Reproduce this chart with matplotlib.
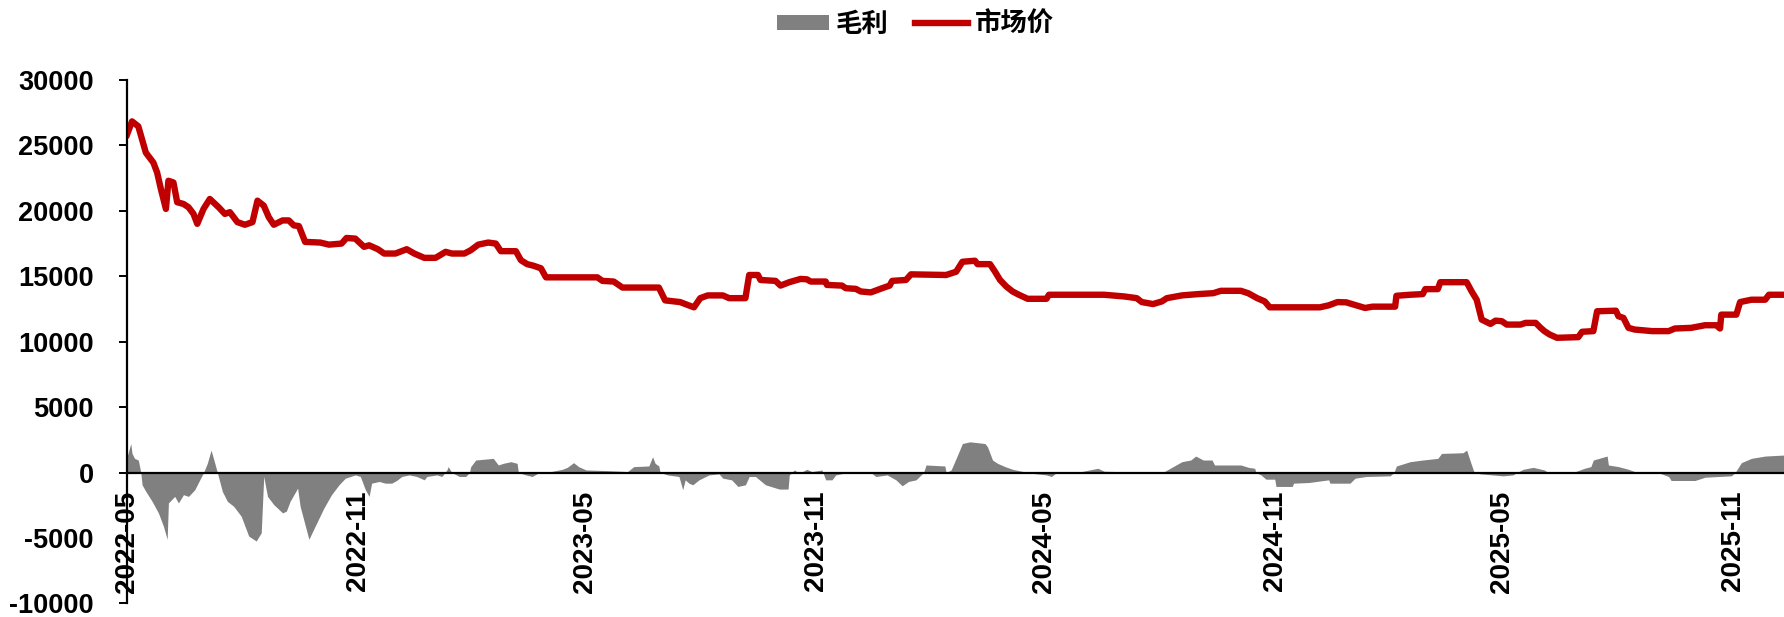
import numpy as np
import pandas as pd
import matplotlib
matplotlib.use("Agg")
import matplotlib.pyplot as plt
import matplotlib.dates as mdates
from matplotlib.patches import Patch
from matplotlib.lines import Line2D

plt.rcParams['font.family'] = ['Liberation Sans', 'Noto Sans CJK SC']
plt.rcParams['font.weight'] = 'bold'
plt.rcParams['axes.unicode_minus'] = False

# market price (市场价)
price_dates = [
    "2022-05-01", "2022-05-05", "2022-05-10", "2022-05-13", "2022-05-16", "2022-05-20",
    "2022-05-22", "2022-05-25", "2022-05-28", "2022-06-01", "2022-06-03", "2022-06-07",
    "2022-06-10", "2022-06-15", "2022-06-19", "2022-06-23", "2022-06-26", "2022-07-01",
    "2022-07-06", "2022-07-13", "2022-07-18", "2022-07-22", "2022-07-28", "2022-08-03",
    "2022-08-09", "2022-08-13", "2022-08-18", "2022-08-22", "2022-08-26", "2022-09-02",
    "2022-09-07", "2022-09-11", "2022-09-15", "2022-09-20", "2022-10-02", "2022-10-09",
    "2022-10-19", "2022-10-23", "2022-10-30", "2022-11-06", "2022-11-10", "2022-11-17",
    "2022-11-22", "2022-12-01", "2022-12-10", "2022-12-16", "2022-12-24", "2023-01-02",
    "2023-01-10", "2023-01-15", "2023-01-25", "2023-01-30", "2023-02-05", "2023-02-13",
    "2023-02-19", "2023-02-23", "2023-03-07", "2023-03-11", "2023-03-16", "2023-03-21",
    "2023-03-27", "2023-03-31", "2023-05-11", "2023-05-15", "2023-05-24", "2023-05-31",
    "2023-06-29", "2023-07-04", "2023-07-16", "2023-07-20", "2023-07-27", "2023-08-01",
    "2023-08-07", "2023-08-19", "2023-08-24", "2023-09-06", "2023-09-09", "2023-09-16",
    "2023-09-18", "2023-09-30", "2023-10-04", "2023-10-11", "2023-10-20", "2023-10-25",
    "2023-10-28", "2023-11-09", "2023-11-10", "2023-11-22", "2023-11-25", "2023-12-03",
    "2023-12-07", "2023-12-15", "2023-12-24", "2023-12-30", "2024-01-01", "2024-01-12",
    "2024-01-16", "2024-02-13", "2024-02-21", "2024-02-26", "2024-03-07", "2024-03-09",
    "2024-03-19", "2024-03-23", "2024-03-27", "2024-04-01", "2024-04-06", "2024-04-11",
    "2024-04-18", "2024-05-03", "2024-05-05", "2024-06-18", "2024-07-04", "2024-07-14",
    "2024-07-18", "2024-07-27", "2024-08-03", "2024-08-07", "2024-08-19", "2024-09-01",
    "2024-09-13", "2024-09-19", "2024-10-05", "2024-10-11", "2024-10-18", "2024-10-24",
    "2024-10-28", "2024-12-07", "2024-12-14", "2024-12-21", "2024-12-28", "2025-01-05",
    "2025-01-12", "2025-01-18", "2025-02-05", "2025-02-06", "2025-02-17", "2025-02-27",
    "2025-03-01", "2025-03-11", "2025-03-13", "2025-04-03", "2025-04-07", "2025-04-11",
    "2025-04-15", "2025-04-22", "2025-04-26", "2025-05-01", "2025-05-05", "2025-05-16",
    "2025-05-20", "2025-05-28", "2025-06-01", "2025-06-04", "2025-06-08", "2025-06-14",
    "2025-07-01", "2025-07-04", "2025-07-13", "2025-07-16", "2025-07-31", "2025-08-02",
    "2025-08-06", "2025-08-10", "2025-08-15", "2025-08-29", "2025-09-11", "2025-09-16",
    "2025-09-29", "2025-10-10", "2025-10-19", "2025-10-22", "2025-10-23", "2025-11-04",
    "2025-11-07", "2025-11-16", "2025-11-27", "2025-11-30", "2025-12-12",
]
price = [
    25830, 26840, 26460, 25450, 24450, 23940,
    23690, 22930, 21670, 20150, 22300, 22170,
    20660, 20530, 20280, 19770, 19010, 20150,
    20910, 20280, 19770, 19900, 19140, 18940,
    19140, 20780, 20400, 19520, 18940, 19270,
    19270, 18890, 18840, 17630, 17580, 17420,
    17500, 17930, 17880, 17250, 17370, 17070,
    16740, 16740, 17070, 16740, 16410, 16410,
    16870, 16740, 16740, 16990, 17420, 17580,
    17500, 16920, 16920, 16230, 15930, 15810,
    15610, 14920, 14920, 14650, 14600, 14140,
    14140, 13160, 13030, 12880, 12630, 13330,
    13540, 13540, 13330, 13330, 15100, 15100,
    14720, 14650, 14290, 14550, 14800, 14770,
    14600, 14600, 14340, 14290, 14090, 14040,
    13840, 13770, 14090, 14290, 14650, 14720,
    15150, 15100, 15350, 16110, 16190, 15930,
    15930, 15350, 14720, 14220, 13840, 13590,
    13280, 13280, 13590, 13590, 13460, 13330,
    13030, 12880, 13080, 13330, 13540, 13640,
    13710, 13890, 13890, 13700, 13330, 13080,
    12630, 12630, 12780, 13030, 13010, 12780,
    12580, 12680, 12680, 13510, 13590, 13640,
    14020, 14020, 14550, 14550, 13840, 13210,
    11690, 11360, 11610, 11570, 11310, 11310,
    11440, 11440, 11060, 10810, 10560, 10300,
    10350, 10760, 10810, 12330, 12370, 11950,
    11820, 11060, 10930, 10810, 10810, 11010,
    11060, 11260, 11260, 11010, 12070, 12070,
    13030, 13210, 13210, 13590, 13590,
]

# gross margin (毛利)
margin_dates = [
    "2022-05-01", "2022-05-04", "2022-05-05", "2022-05-07", "2022-05-10", "2022-05-12",
    "2022-05-13", "2022-05-16", "2022-05-21", "2022-05-26", "2022-05-30", "2022-06-02",
    "2022-06-03", "2022-06-08", "2022-06-11", "2022-06-15", "2022-06-19", "2022-06-24",
    "2022-06-28", "2022-07-01", "2022-07-04", "2022-07-07", "2022-07-10", "2022-07-12",
    "2022-07-16", "2022-07-20", "2022-07-25", "2022-07-31", "2022-08-06", "2022-08-12",
    "2022-08-16", "2022-08-18", "2022-08-21", "2022-08-26", "2022-09-02", "2022-09-05",
    "2022-09-08", "2022-09-14", "2022-09-16", "2022-09-23", "2022-09-28", "2022-10-05",
    "2022-10-11", "2022-10-17", "2022-10-22", "2022-10-30", "2022-11-03", "2022-11-07",
    "2022-11-10", "2022-11-12", "2022-11-18", "2022-11-23", "2022-11-28", "2022-12-02",
    "2022-12-06", "2022-12-12", "2022-12-18", "2022-12-24", "2022-12-26", "2023-01-03",
    "2023-01-07", "2023-01-11", "2023-01-12", "2023-01-15", "2023-01-21", "2023-01-26",
    "2023-01-29", "2023-01-30", "2023-02-03", "2023-02-17", "2023-02-21", "2023-02-25",
    "2023-03-03", "2023-03-08", "2023-03-09", "2023-03-15", "2023-03-20", "2023-03-27",
    "2023-04-04", "2023-04-13", "2023-04-17", "2023-04-22", "2023-04-26", "2023-05-02",
    "2023-05-19", "2023-06-04", "2023-06-09", "2023-06-21", "2023-06-24", "2023-06-26",
    "2023-06-29", "2023-06-30", "2023-07-06", "2023-07-15", "2023-07-18", "2023-07-20",
    "2023-07-23", "2023-07-26", "2023-07-31", "2023-08-08", "2023-08-16", "2023-08-19",
    "2023-08-26", "2023-08-31", "2023-09-06", "2023-09-09", "2023-09-14", "2023-09-22",
    "2023-10-03", "2023-10-10", "2023-10-11", "2023-10-15", "2023-10-19", "2023-10-25",
    "2023-10-29", "2023-11-06", "2023-11-09", "2023-11-14", "2023-11-17", "2023-11-30",
    "2023-12-14", "2023-12-19", "2023-12-28", "2024-01-04", "2024-01-09", "2024-01-14",
    "2024-01-20", "2024-01-24", "2024-01-26", "2024-01-28", "2024-02-12", "2024-02-13",
    "2024-02-17", "2024-02-21", "2024-02-26", "2024-03-03", "2024-03-15", "2024-03-17",
    "2024-03-21", "2024-03-25", "2024-03-31", "2024-04-06", "2024-04-11", "2024-04-21",
    "2024-05-03", "2024-05-07", "2024-05-11", "2024-05-31", "2024-06-13", "2024-06-18",
    "2024-07-12", "2024-08-05", "2024-08-12", "2024-08-19", "2024-08-26", "2024-08-30",
    "2024-09-05", "2024-09-12", "2024-09-14", "2024-10-05", "2024-10-11", "2024-10-16",
    "2024-10-17", "2024-10-21", "2024-10-25", "2024-11-01", "2024-11-02", "2024-11-15",
    "2024-11-16", "2024-11-28", "2024-12-14", "2024-12-15", "2024-12-31", "2025-01-04",
    "2025-01-13", "2025-02-01", "2025-02-04", "2025-02-06", "2025-02-17", "2025-02-27",
    "2025-03-11", "2025-03-14", "2025-03-31", "2025-04-03", "2025-04-06", "2025-04-09",
    "2025-04-14", "2025-05-02", "2025-05-10", "2025-05-13", "2025-05-18", "2025-05-26",
    "2025-06-04", "2025-06-07", "2025-06-28", "2025-07-06", "2025-07-11", "2025-07-13",
    "2025-07-24", "2025-07-25", "2025-08-02", "2025-08-10", "2025-08-15", "2025-08-21",
    "2025-09-04", "2025-09-11", "2025-09-13", "2025-10-02", "2025-10-10", "2025-10-31",
    "2025-11-03", "2025-11-08", "2025-11-16", "2025-11-27", "2025-12-12",
]
margin = [
    1200, 2220, 1465, 1086, 960, 0,
    -934, -1440, -2200, -3080, -4090, -5100,
    -2320, -1820, -2320, -1690, -1820, -1310,
    -555, 0, 707, 1717, 707, 0,
    -1440, -2200, -2575, -3330, -4850, -5230,
    -4600, -300, -1820, -2450, -3080, -2950,
    -2200, -1190, -2575, -5100, -4090, -2700,
    -1690, -934, -430, -180, -300, -1310,
    -1820, -810, -680, -810, -810, -600,
    -300, -180, -300, -555, -300, -180,
    -300, 200, 455, 0, -300, -300,
    0, 455, 960, 1086, 580, 707,
    833, 707, 0, -180, -300, 76,
    76, 250, 400, 757, 455, 200,
    150, 76, 455, 505, 1212, 707,
    500, 0, -180, -300, -1310, -555,
    -810, -934, -555, -180, -100, -430,
    -555, -1060, -934, -300, -300, -934,
    -1260, -1260, -180, 200, -50, 250,
    76, 200, -555, -555, -180, 76,
    76, -300, -180, -555, -1010, -680,
    -555, -180, 0, 580, 505, 0,
    200, 1086, 2220, 2350, 2220, 1970,
    960, 707, 455, 250, 150, -50,
    -180, -300, 0, 76, 330, 100,
    50, 76, 455, 833, 960, 1263,
    960, 960, 580, 580, 400, 330,
    0, -180, -505, -505, -1060, -1060,
    -810, -760, -555, -810, -810, -430,
    -300, -250, 0, 505, 833, 960,
    1086, 1465, 1515, 1717, 833, 0,
    -100, -250, -180, 0, 250, 400,
    200, 0, 50, 330, 455, 960,
    1263, 580, 455, 250, 76, 0,
    -50, -300, -606, -606, -355, -250,
    0, 757, 1086, 1263, 1340,
]

px = pd.to_datetime(price_dates)
mx = pd.to_datetime(margin_dates)

fig = plt.figure(figsize=(17.84, 6.17), dpi=100)
ax = fig.add_axes([0.0712, 0.022, 0.9288, 0.8483])

ax.fill_between(mx, 0, margin, color='#808080', lw=0, zorder=1)
ax.plot(px, price, color='#C00000', lw=4.6, zorder=2)

ax.set_xlim(pd.Timestamp("2022-05-01"), pd.Timestamp("2025-12-12"))
ax.set_ylim(-10000, 30000)
ax.set_yticks(np.arange(-10000, 30001, 5000))

ax.xaxis.set_major_locator(mdates.MonthLocator(bymonth=(5, 11)))
ax.xaxis.set_major_formatter(mdates.DateFormatter('%Y-%m'))

for side in ('top', 'right'):
    ax.spines[side].set_visible(False)
ax.spines['bottom'].set_position(('data', 0))
ax.spines['bottom'].set_linewidth(1.6)
ax.spines['left'].set_linewidth(1.6)
ax.spines['bottom'].set_zorder(3)

ax.tick_params(axis='y', direction='out', length=6, width=1.4, pad=18, labelsize=19.5)
ax.tick_params(axis='x', length=0, pad=13, labelsize=20, labelrotation=90)

handles = [Patch(facecolor='#808080', edgecolor='none'),
           Line2D([0], [0], color='#C00000', lw=4.6)]
fig.legend(handles, ['毛利', '市场价'], loc='center', bbox_to_anchor=(0.513, 0.961),
           ncol=2, frameon=False, fontsize=19, handlelength=2.0, handleheight=0.5,
           handletextpad=0.25, columnspacing=1.0)

fig.savefig('out.png', dpi=100)
